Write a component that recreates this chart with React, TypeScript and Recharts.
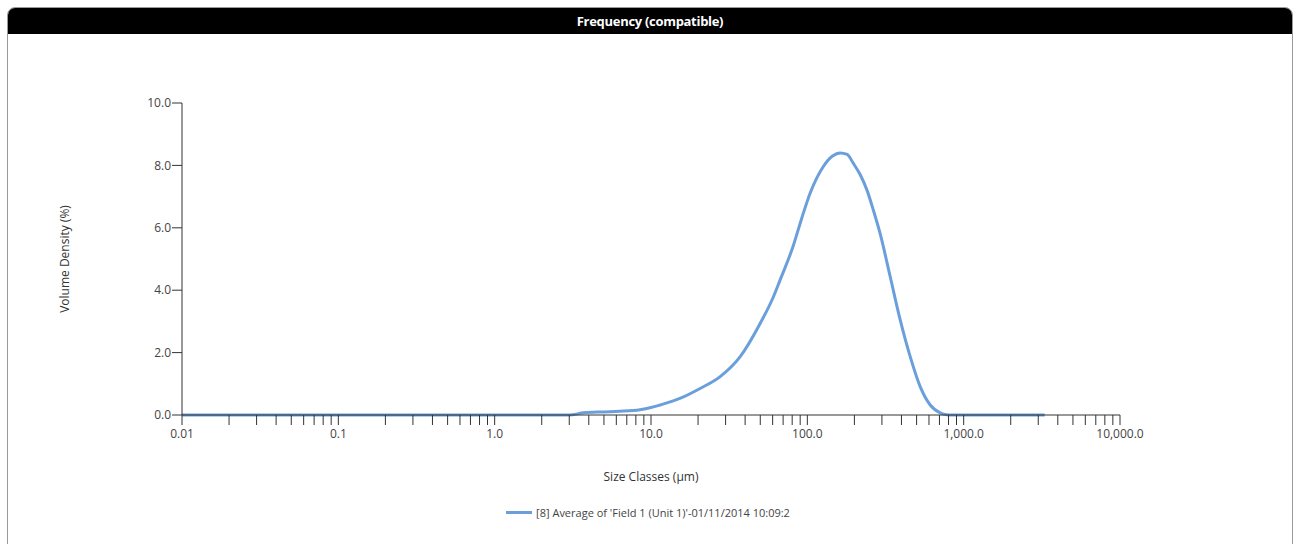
import { LineChart, Line, XAxis, YAxis, Legend } from 'recharts';

// size classes (µm) and volume density (%)
const sizeClasses = [
  0.01, 0.1, 1.0, 2.0, 3.0, 3.7, 5.0, 6.3, 8.5, 10.0, 11.4, 15.3, 20.6, 27.7, 37.2,
  50.0, 60.7, 67.0, 81.0, 92.0, 104.0, 115.0, 126.0, 145.0, 162.0, 180.0, 196.0, 218.0,
  241.0, 265.0, 292.0, 339.0, 393.0, 455.0, 527.0, 611.0, 708.0, 780.0, 850.0,
  1500.0, 2500.0, 3300.0,
];
const volumeDensity = [
  0, 0, 0, 0, 0, 0.07, 0.1, 0.12, 0.17, 0.24, 0.32, 0.53, 0.85, 1.23, 1.87,
  2.94, 3.79, 4.33, 5.4, 6.3, 7.1, 7.6, 7.95, 8.3, 8.4, 8.35, 8.08, 7.7,
  7.2, 6.55, 5.82, 4.43, 3.04, 1.87, 0.91, 0.32, 0.07, 0.01, 0,
  0, 0, 0,
];

const decadeTicks = [0.01, 0.1, 1, 10, 100, 1000, 10000];
const decadeLabels = ['0.01', '0.1', '1.0', '10.0', '100.0', '1,000.0', '10,000.0'];
const yTicks = [0, 2, 4, 6, 8, 10];
const seriesName = "[8] Average of 'Field 1 (Unit 1)'-01/11/2014 10:09:2";

const lineColor = '#6a9fdc';
const axisColor = '#333';
const font = '"Open Sans", "DejaVu Sans", sans-serif';

const data = sizeClasses.map((s, i) => ({ size: s, value: volumeDensity[i] }));

// decade ticks plus 2..9 minor ticks
const xTicks: number[] = [];
decadeTicks.forEach((d, i) => {
  xTicks.push(d);
  if (i < decadeTicks.length - 1) {
    for (let m = 2; m <= 9; m++) xTicks.push(Number((d * m).toPrecision(3)));
  }
});

const formatX = (v: number) => {
  const idx = decadeTicks.findIndex((d) => Math.abs(d - v) / d < 1e-6);
  return idx >= 0 ? decadeLabels[idx] : '';
};

function LegendContent() {
  return (
    <div style={{ display: 'flex', justifyContent: 'center', alignItems: 'center', fontFamily: font, fontSize: 11, color: '#444' }}>
      <span style={{ display: 'inline-block', width: 26, height: 3, background: lineColor, marginRight: 4 }} />
      <span>{seriesName}</span>
    </div>
  );
}

export default function App() {
  return (
    <div style={{ position: 'absolute', left: 0, top: 0, width: 1296, height: 544, background: '#fff' }}>
      <div
        style={{
          position: 'absolute',
          left: 7,
          top: 7,
          width: 1284,
          height: 540,
          border: '1px solid #9a9a9a',
          borderRadius: '8px 8px 0 0',
          overflow: 'hidden',
        }}
      >
        <div
          style={{
            height: 26,
            background: '#000',
            color: '#fff',
            fontFamily: font,
            fontWeight: 700,
            fontSize: 13,
            lineHeight: '26px',
            textAlign: 'center',
            letterSpacing: -0.3,
          }}
        >
          Frequency (compatible)
        </div>
      </div>
      <div style={{ position: 'absolute', left: 0, top: 0 }}>
        <LineChart
          width={1296}
          height={544}
          data={data}
          margin={{ top: 103, right: 176, left: 62, bottom: 99 }}
        >
          <XAxis
            dataKey="size"
            type="number"
            scale="log"
            domain={[0.01, 10000]}
            ticks={xTicks}
            interval={0}
            tickFormatter={formatX}
            tickSize={10}
            tickMargin={4}
            height={30}
            allowDataOverflow
            stroke={axisColor}
            tick={{ fill: '#444', fontSize: 12, fontFamily: font }}
            label={{ value: 'Size Classes (µm)', position: 'center', dy: 47, fill: '#333', fontSize: 12, fontFamily: font }}
          />
          <YAxis
            type="number"
            domain={[0, 10]}
            ticks={yTicks}
            tickFormatter={(v: number) => v.toFixed(1)}
            tickSize={10}
            tickMargin={1}
            width={120}
            stroke={axisColor}
            tick={{ fill: '#444', fontSize: 12, fontFamily: font }}
            label={{ value: 'Volume Density (%)', angle: -90, position: 'center', dx: -57, fill: '#333', fontSize: 12, fontFamily: font }}
          />
          <Legend
            verticalAlign="middle"
            align="center"
            content={<LegendContent />}
            wrapperStyle={{ top: 505, left: 0, width: 1296 }}
          />
          <Line
            type="monotone"
            dataKey="value"
            name={seriesName}
            stroke={lineColor}
            strokeWidth={3}
            dot={false}
            isAnimationActive={false}
          />
        </LineChart>
      </div>
    </div>
  );
}
